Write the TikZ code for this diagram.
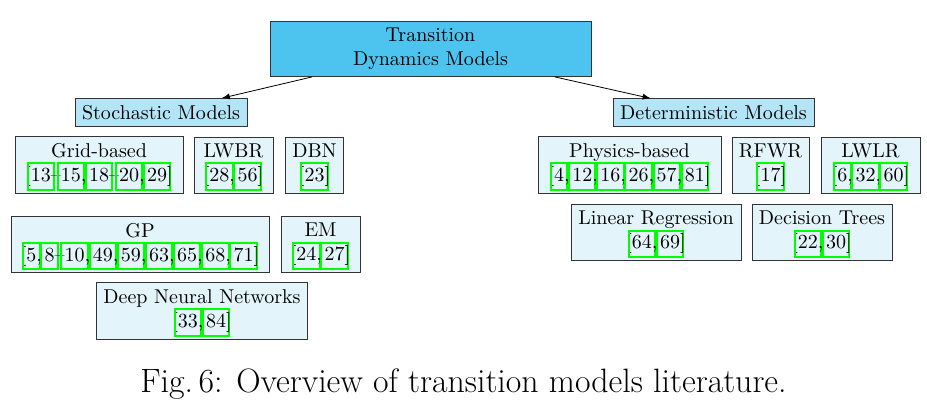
\documentclass[tikz,border=0pt]{standalone}
\usepackage{xcolor}
\definecolor{rootblue}{RGB}{77,196,240}
\definecolor{catblue}{RGB}{179,229,247}
\definecolor{leafblue}{RGB}{227,244,251}
\newcommand{\lnk}[1]{{\setlength{\fboxsep}{1.1pt}\setlength{\fboxrule}{1pt}\hspace{-2.1pt}\smash{\color{green}\fbox{\color{black}\vphantom{[}#1}}\hspace{-2.1pt}}}
\newcommand{\cs}{,\hspace{.13em}}

\begin{document}
\begin{tikzpicture}[x=0.5pt,y=-0.5pt,>=latex,
  rootbox/.style={draw=black!80,fill=rootblue,align=center,minimum height=27pt},
  catbox/.style={draw=black!80,fill=catblue,minimum height=13.5pt},
  leafbox/.style={draw=black!80,fill=leafblue,align=center,minimum height=28pt}]
\useasboundingbox (0,0) rectangle (927,402);
\node[rootbox,minimum width=160.5pt] (root) at (430.5,49) {Transition\\Dynamics Models};
\node[catbox,minimum width=86pt] (stoch) at (161,112.5) {Stochastic Models};
\node[catbox,minimum width=100.5pt] (det) at (713.5,112.5) {Deterministic Models};
% stochastic side
\node[leafbox,minimum width=84pt] (grid) at (99,165) {Grid-based\\{[}\lnk{13}--\lnk{15}\cs\lnk{18}--\lnk{20}\cs\lnk{29}]};
\node[leafbox,minimum width=39.5pt] (lwbr) at (233.5,165) {LWBR\\{[}\lnk{28}\cs\lnk{56}]};
\node[leafbox,minimum width=28.5pt] (dbn) at (314.5,165) {DBN\\{[}\lnk{23}]};
\node[leafbox,minimum width=129pt] (gp) at (140,244.5) {GP\\{[}\lnk{5}\cs\lnk{8}--\lnk{10}\cs\lnk{49}\cs\lnk{59}\cs\lnk{63}\cs\lnk{65}\cs\lnk{68}\cs\lnk{71}]};
\node[leafbox,minimum width=39.5pt] (em) at (320.5,244.5) {EM\\{[}\lnk{24}\cs\lnk{27}]};
\node[leafbox,minimum width=105pt] (dnn) at (202,311) {Deep Neural Networks\\{[}\lnk{33}\cs\lnk{84}]};
% deterministic side
\node[leafbox,minimum width=91.5pt] (phys) at (629.5,165) {Physics-based\\{[}\lnk{4}\cs\lnk{12}\cs\lnk{16}\cs\lnk{26}\cs\lnk{57}\cs\lnk{81}]};
\node[leafbox,minimum width=38.5pt] (rfwr) at (770.5,165) {RFWR\\{[}\lnk{17}]};
\node[leafbox,minimum width=49.5pt] (lwlr) at (870.5,165) {LWLR\\{[}\lnk{6}\cs\lnk{32}\cs\lnk{60}]};
\node[leafbox,minimum width=85pt] (linreg) at (656,232.5) {Linear Regression\\{[}\lnk{64}\cs\lnk{69}]};
\node[leafbox,minimum width=70pt] (dtree) at (822,232.5) {Decision Trees\\{[}\lnk{22}\cs\lnk{30}]};
\draw[->] (root) -- (stoch);
\draw[->] (root) -- (det);
\node[anchor=base,font=\fontsize{16.9}{20}\selectfont] (cap) at (463.5,392) {Fig.\,6: Overview of transition models literature.};
\end{tikzpicture}
\end{document}
